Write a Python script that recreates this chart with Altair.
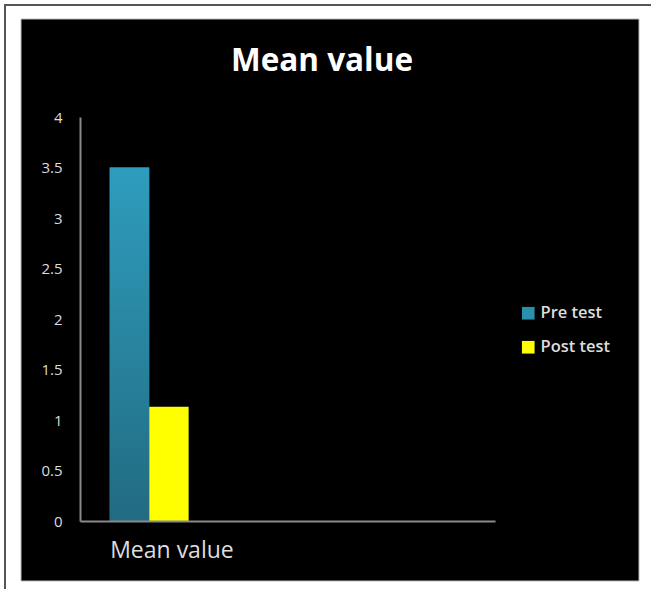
import altair as alt
import pandas as pd

categories = ["Mean value", " ", "  "]
series = ["Pre test", "Post test"]
values = [3.5, 1.13]
colors = ["#2b8fae", "#ffff00"]
title_text = "Mean value"
y_ticks = [0, 0.5, 1, 1.5, 2, 2.5, 3, 3.5, 4]

df = pd.DataFrame({"category": ["Mean value"] * 2, "series": series, "value": values})
pre = df[df.series == "Pre test"]

W, H = 415, 404
PL, PT = 80, 117

xs = alt.Scale(domain=categories, paddingInner=0.43, paddingOuter=0.215)
ys = alt.Scale(domain=[0, 4])
one = pd.DataFrame({"t": [title_text]})

frame = alt.Chart(one).mark_rect(fill="white", stroke="#555555", strokeWidth=2, clip=False).encode(
    x=alt.value(5 - PL), x2=alt.value(700), y=alt.value(5 - PT), y2=alt.value(700)
)
panel = alt.Chart(one).mark_rect(fill="black", stroke="#bbbbbb", strokeWidth=1, clip=False).encode(
    x=alt.value(21 - PL), x2=alt.value(639 - PL), y=alt.value(19 - PT), y2=alt.value(581 - PT)
)
title = alt.Chart(one).mark_text(color="white", fontSize=31.5, font="Open Sans", fontWeight="bold",
                                 align="center", baseline="middle", clip=False).encode(
    x=alt.value(322 - PL), y=alt.value(62 - PT), text="t:N"
)

bars = alt.Chart(df).mark_bar(size=39.5).encode(
    x=alt.X("category:N", scale=xs, title=None,
            axis=alt.Axis(labelAlign="left", labelOffset=-39, ticks=False, domainColor="#8a8a8a",
                          domainWidth=2, labelColor="#dddddd", labelFontSize=23, labelFont="Open Sans",
                          labelPadding=18, labelAngle=0, grid=False, zindex=1)),
    xOffset=alt.XOffset("series:N", scale=alt.Scale(domain=series, paddingInner=0, paddingOuter=0)),
    y=alt.Y("value:Q", scale=ys, title=None,
            axis=alt.Axis(values=y_ticks, labelExpr="datum.value", ticks=False, grid=False,
                          domainColor="#8a8a8a", domainWidth=2, labelColor="#dddddd",
                          labelFontSize=15, labelFont="Open Sans", labelPadding=18, zindex=1)),
    color=alt.Color("series:N", scale=alt.Scale(domain=series, range=colors),
                    legend=alt.Legend(title=None, orient="none", legendX=520 - PL, legendY=305 - PT,
                                      symbolType="square", symbolSize=160, symbolStrokeWidth=0,
                                      labelColor="#dddddd", labelFontSize=16.5, labelFont="Open Sans",
                                      labelFontWeight=600, rowPadding=17, symbolOpacity=1, zindex=1)),
)

grad = alt.Chart(pre).mark_bar(
    size=39.5,
    fill=alt.Gradient(gradient="linear", x1=0, y1=0, x2=0, y2=1,
                      stops=[alt.GradientStop(color="#2e9dbd", offset=0),
                             alt.GradientStop(color="#226b82", offset=1)]),
).encode(
    x=alt.X("category:N", scale=xs),
    xOffset=alt.XOffset("series:N", scale=alt.Scale(domain=series, paddingInner=0, paddingOuter=0)),
    y=alt.Y("value:Q", scale=ys),
)

chart = alt.layer(frame, panel, title, bars, grad).properties(
    width=W, height=H,
    padding={"left": PL, "top": PT, "right": 651 - PL - W, "bottom": 589 - PT - H},
    autosize=alt.AutoSizeParams(type="none"),
).configure_view(stroke=None).configure(background="white")

chart.save("out.html", embed_options={"renderer": "svg", "actions": False})
